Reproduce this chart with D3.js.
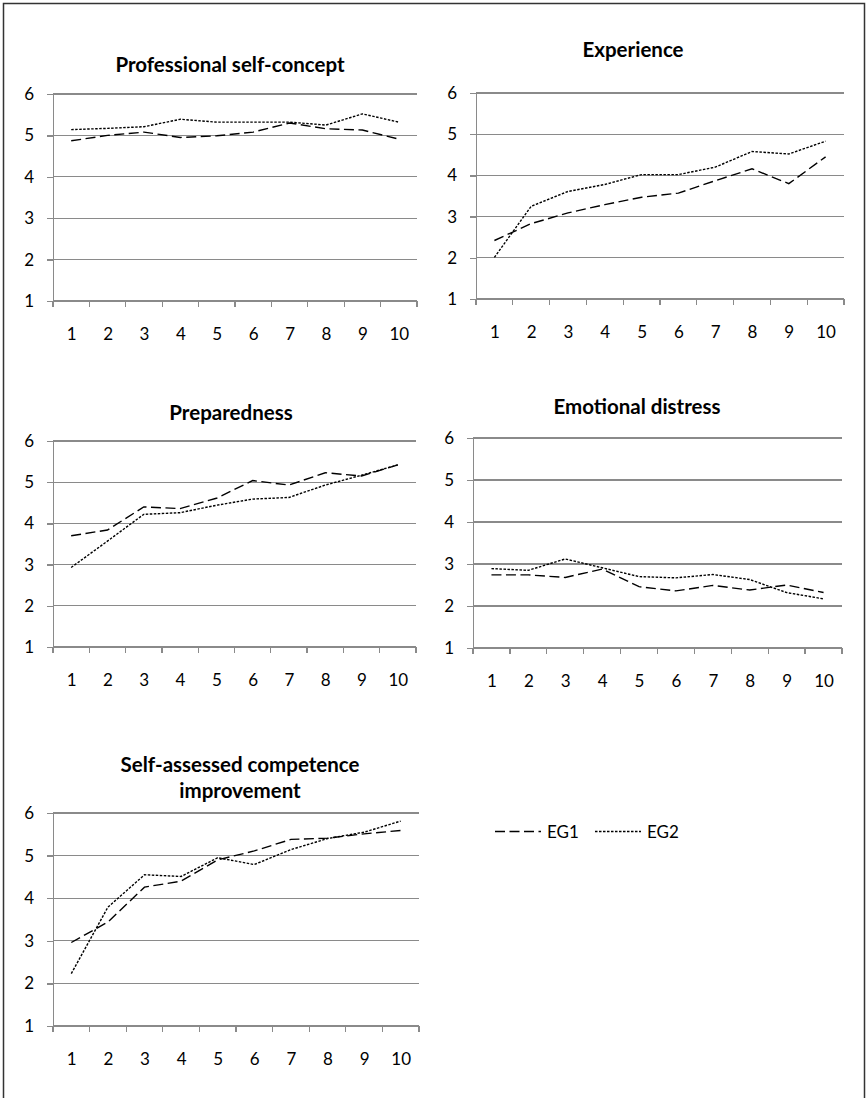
<!doctype html>
<html>
  <head>
    <script src="https://cdn.jsdelivr.net/npm/d3@7/dist/d3.min.js"></script>
    <style>
      body, html {
        margin: 0;
        background: #fff;
      }
      svg {
        display: block;
      }
      .grid line, .axis path, .axis line, .tick-mark {
        stroke: #8a8a8a;
        stroke-width: 1.3px;
        shape-rendering: crispEdges;
      }
      .axis text {
        font-family: Lato, "Open Sans", sans-serif;
        font-size: 17px;
        fill: #000;
      }
      .title {
        font-family: Lato, "Open Sans", sans-serif;
        font-weight: bold;
        font-size: 20.5px;
        fill: #000;
      }
      path.series {
        fill: none;
        stroke: #000;
        stroke-width: 1.4px;
      }
      .legend text {
        font-family: Lato, "Open Sans", sans-serif;
        font-size: 17px;
        fill: #000;
      }
    </style>
  </head>
  <body>
    <svg width="867" height="1098"></svg>
    <script>
      // measurement occasions
      var occasions = ["1", "2", "3", "4", "5", "6", "7", "8", "9", "10"];
      var yTicks = [1, 2, 3, 4, 5, 6];
      var seriesNames = ["EG1", "EG2"];

      var selfConceptEG1 = [4.87, 5.00, 5.08, 4.95, 4.99, 5.08, 5.30, 5.16, 5.13, 4.91];
      var selfConceptEG2 = [5.14, 5.17, 5.21, 5.39, 5.32, 5.32, 5.32, 5.25, 5.52, 5.32];

      var experienceEG1 = [2.42, 2.83, 3.09, 3.29, 3.47, 3.57, 3.87, 4.16, 3.80, 4.45];
      var experienceEG2 = [2.01, 3.25, 3.61, 3.78, 4.02, 4.02, 4.20, 4.58, 4.52, 4.83];

      var preparednessEG1 = [3.70, 3.84, 4.40, 4.36, 4.61, 5.04, 4.93, 5.23, 5.15, 5.42];
      var preparednessEG2 = [2.93, 3.57, 4.22, 4.26, 4.44, 4.59, 4.63, 4.93, 5.17, 5.42];

      var distressEG1 = [2.74, 2.74, 2.68, 2.88, 2.46, 2.36, 2.49, 2.38, 2.50, 2.32];
      var distressEG2 = [2.89, 2.85, 3.12, 2.91, 2.70, 2.67, 2.75, 2.63, 2.32, 2.17];

      var competenceEG1 = [2.96, 3.44, 4.26, 4.40, 4.90, 5.11, 5.38, 5.41, 5.51, 5.59];
      var competenceEG2 = [2.23, 3.79, 4.55, 4.51, 4.95, 4.79, 5.14, 5.40, 5.55, 5.81];

      var panels = [
        { title: ["Professional self-concept"], eg1: selfConceptEG1, eg2: selfConceptEG2,
          x0: 53, x1: 417, top: 94, bottom: 301, tx: 230, ty: 72 },
        { title: ["Experience"], eg1: experienceEG1, eg2: experienceEG2,
          x0: 476, x1: 844, top: 93, bottom: 299, tx: 633, ty: 57 },
        { title: ["Preparedness"], eg1: preparednessEG1, eg2: preparednessEG2,
          x0: 53, x1: 416, top: 441, bottom: 647, tx: 231, ty: 420 },
        { title: ["Emotional distress"], eg1: distressEG1, eg2: distressEG2,
          x0: 473, x1: 842, top: 438, bottom: 648, tx: 637, ty: 414 },
        { title: ["Self-assessed competence", "improvement"], eg1: competenceEG1, eg2: competenceEG2,
          x0: 53, x1: 419, top: 813, bottom: 1026, tx: 240, ty: 772 }
      ];

      var dashes = { EG1: "10,4.5", EG2: "2.5,1.5" };

      var svg = d3.select("svg");

      // outer frame
      svg.append("rect")
        .attr("x", 3.5).attr("y", 3.5)
        .attr("width", 861).attr("height", 1110)
        .attr("fill", "none")
        .attr("stroke", "#333")
        .attr("stroke-width", 1.5);

      panels.forEach(function(p) {
        var g = svg.append("g");

        var band = d3.scaleBand().domain(occasions).range([p.x0, p.x1]);
        var x = d3.scalePoint().domain(occasions).range([p.x0, p.x1]).padding(0.5);
        var y = d3.scaleLinear().domain([1, 6]).range([p.bottom, p.top]);

        // gridlines
        g.append("g").attr("class", "grid")
          .selectAll("line")
          .data(yTicks)
          .join("line")
          .attr("x1", p.x0).attr("x2", p.x1)
          .attr("y1", d => y(d)).attr("y2", d => y(d));

        // y axis
        g.append("g").attr("class", "axis")
          .attr("transform", "translate(" + p.x0 + ",0)")
          .call(d3.axisLeft(y).tickValues(yTicks).tickSizeInner(6).tickSizeOuter(0).tickPadding(13).tickFormat(d3.format("d")));

        // x tick marks at category boundaries
        var edges = occasions.map(d => band(d)).concat([p.x1]);
        g.append("g")
          .selectAll("line")
          .data(edges)
          .join("line")
          .attr("class", "tick-mark")
          .attr("x1", d => d).attr("x2", d => d)
          .attr("y1", p.bottom).attr("y2", p.bottom + 6);

        // x labels
        var xa = g.append("g").attr("class", "axis")
          .attr("transform", "translate(0," + p.bottom + ")")
          .call(d3.axisBottom(x).tickSize(0).tickPadding(27));
        xa.select(".domain").remove();

        // title
        var t = g.append("text").attr("class", "title")
          .attr("text-anchor", "middle")
          .attr("x", p.tx).attr("y", p.ty);
        t.selectAll("tspan")
          .data(p.title)
          .join("tspan")
          .attr("x", p.tx)
          .attr("dy", (d, i) => i === 0 ? 0 : 25.5)
          .text(d => d);

        var line = d3.line()
          .x((d, i) => x(occasions[i]))
          .y(d => y(d));

        g.append("path").attr("class", "series")
          .attr("d", line(p.eg1))
          .attr("stroke-dasharray", dashes.EG1);
        g.append("path").attr("class", "series")
          .attr("d", line(p.eg2))
          .attr("stroke-dasharray", dashes.EG2);
      });

      // legend
      var legend = svg.append("g").attr("class", "legend");
      var legendX = d3.scaleOrdinal().domain(seriesNames).range([495, 595]);
      seriesNames.forEach(function(name) {
        var lx = legendX(name);
        legend.append("line")
          .attr("x1", lx).attr("x2", lx + 46)
          .attr("y1", 831.5).attr("y2", 831.5)
          .attr("stroke", "#000")
          .attr("stroke-width", 1.3)
          .attr("stroke-dasharray", dashes[name]);
        legend.append("text")
          .attr("x", lx + 52).attr("y", 838)
          .text(name);
      });
    </script>
  </body>
</html>
